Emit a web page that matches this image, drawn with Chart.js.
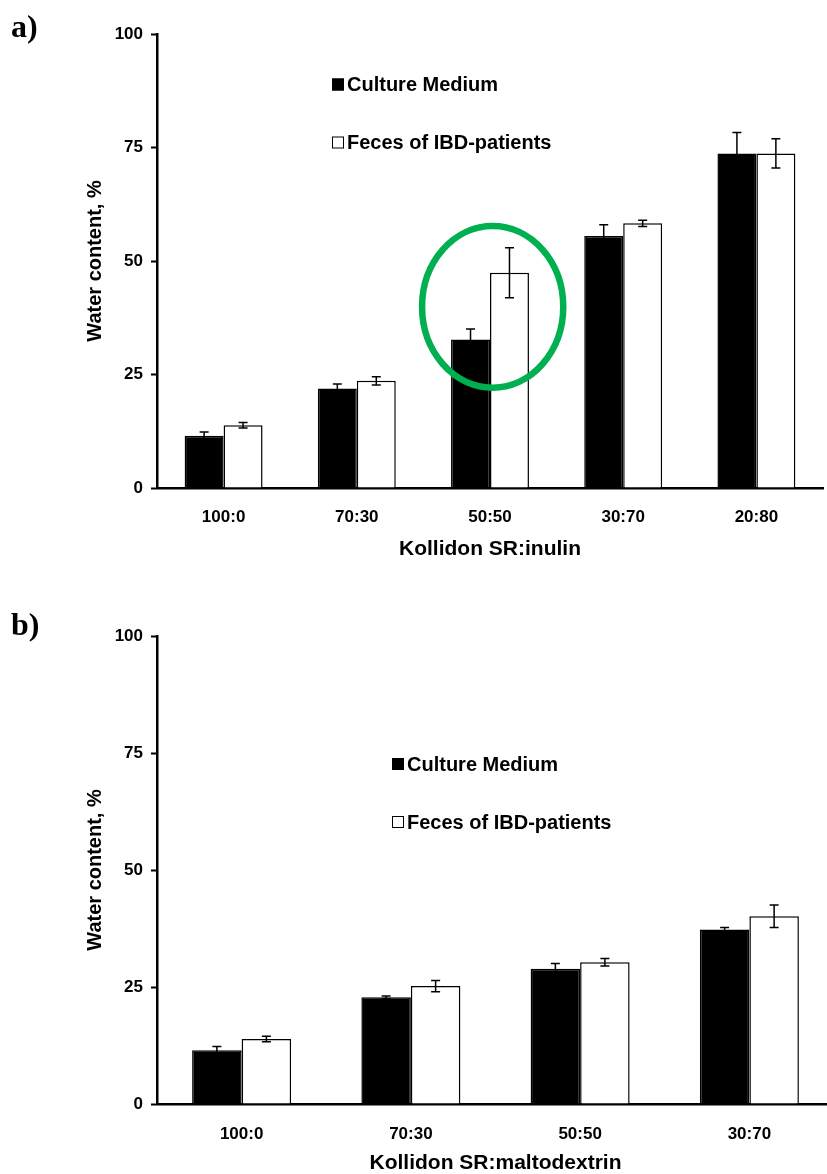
<!DOCTYPE html>
<html>
<head>
<meta charset="utf-8">
<script src="https://cdn.jsdelivr.net/npm/chart.js@4.4.1/dist/chart.umd.min.js"></script>
<style>
  html, body { margin: 0; padding: 0; background: #fff; overflow: hidden; width: 827px; height: 1174px; }
  .wrap { position: absolute; left: 0; }
  #wrapA { top: 0; }
  #wrapB { top: 587px; }
</style>
</head>
<body>
<div class="wrap" id="wrapA"><canvas id="chartA" width="827" height="587"></canvas></div>
<div class="wrap" id="wrapB"><canvas id="chartB" width="838" height="600"></canvas></div>
<script>
/* ---------- data ---------- */
var seriesNames = ['Culture Medium', 'Feces of IBD-patients'];

// a) Kollidon SR:inulin
var catsA = ['100:0', '70:30', '50:50', '30:70', '20:80'];
var cultureA = [11.5, 21.9, 32.7, 55.5, 73.7];
var cultureErrA = [0.85, 1.0, 2.3, 2.5, 4.6];
var fecesA = [13.8, 23.6, 47.4, 58.3, 73.7];
var fecesErrA = [0.6, 0.9, 5.5, 0.7, 3.2];

// b) Kollidon SR:maltodextrin
var catsB = ['100:0', '70:30', '50:50', '30:70'];
var cultureB = [11.5, 22.8, 28.9, 37.3];
var cultureErrB = [0.8, 0.3, 1.1, 0.4];
var fecesB = [13.9, 25.2, 30.3, 40.1];
var fecesErrB = [0.6, 1.2, 0.8, 2.4];

var yTicks = [0, 25, 50, 75, 100];

Chart.defaults.font.family = '"Liberation Sans", Arial, sans-serif';
Chart.defaults.color = '#000';

/* ---------- error bars, legend, panel letter, ellipse ---------- */
var decor = {
	id: 'decor',
	afterDatasetsDraw: function(chart, args, opts) {
		var ctx = chart.ctx;
		var ys = chart.scales.y;
		var xs = chart.scales.x;
		var area = chart.chartArea;

		// error bars
		ctx.save();
		ctx.strokeStyle = '#000';
		ctx.lineWidth = 1.5;
		chart.data.datasets.forEach(function(ds, i) {
			var meta = chart.getDatasetMeta(i);
			meta.data.forEach(function(bar, j) {
				var v = ds.data[j], e = ds.errors[j];
				var yTop = ys.getPixelForValue(v + e);
				var yBot = ys.getPixelForValue(v - e);
				ctx.beginPath();
				ctx.moveTo(bar.x, yTop); ctx.lineTo(bar.x, yBot);
				ctx.moveTo(bar.x - 4.5, yTop); ctx.lineTo(bar.x + 4.5, yTop);
				ctx.moveTo(bar.x - 4.5, yBot); ctx.lineTo(bar.x + 4.5, yBot);
				ctx.stroke();
			});
		});
		ctx.restore();

		// green ellipse
		if (opts.ellipse) {
			var el = opts.ellipse;
			var cx = xs.getPixelForValue(el.cat);
			var cy = ys.getPixelForValue(el.value);
			var rx = xs.getPixelForValue(el.cat + el.halfCats) - cx;
			var ry = cy - ys.getPixelForValue(el.value + el.halfValue);
			ctx.save();
			ctx.strokeStyle = '#00B050';
			ctx.lineWidth = 6.5;
			ctx.beginPath();
			ctx.ellipse(cx, cy, rx, ry, 0, 0, Math.PI * 2);
			ctx.stroke();
			ctx.restore();
		}

		// legend
		ctx.save();
		ctx.font = 'bold 20px "Liberation Sans", Arial, sans-serif';
		ctx.textBaseline = 'middle';
		chart.data.datasets.forEach(function(ds, i) {
			var lx = area.left + opts.legend.dx;
			var ly = area.top + opts.legend.dy[i];
			ctx.fillStyle = ds.backgroundColor;
			ctx.fillRect(lx, ly - 6, 12, 12);
			ctx.strokeStyle = '#000';
			ctx.lineWidth = 1;
			ctx.strokeRect(lx + 0.5, ly - 5.5, 11, 11);
			ctx.fillStyle = '#000';
			ctx.fillText(ds.label, lx + 15, ly + 1);
		});
		ctx.restore();

		// panel letter
		ctx.save();
		ctx.font = 'bold 32px "Liberation Serif", "Times New Roman", serif';
		ctx.textBaseline = 'alphabetic';
		ctx.fillStyle = '#000';
		ctx.fillText(opts.panel.text, opts.panel.x, opts.panel.y);
		ctx.restore();
	}
};

function makeChart(id, cats, culture, cultureErr, feces, fecesErr, xTitle, lay, extra) {
	return new Chart(document.getElementById(id), {
		type: 'bar',
		data: {
			labels: cats,
			datasets: [{
				label: seriesNames[0],
				data: culture,
				errors: cultureErr,
				backgroundColor: '#000',
				borderColor: '#000',
				borderWidth: 1.5,
				categoryPercentage: 0.585,
				barPercentage: 1.0
			}, {
				label: seriesNames[1],
				data: feces,
				errors: fecesErr,
				backgroundColor: '#fff',
				borderColor: '#000',
				borderWidth: 1.5,
				categoryPercentage: 0.585,
				barPercentage: 1.0
			}]
		},
		options: {
			responsive: false,
			animation: false,
			layout: { padding: lay.padding },
			plugins: {
				legend: { display: false },
				tooltip: { enabled: false },
				decor: extra
			},
			scales: {
				x: {
					grid: { display: false, drawTicks: false },
					border: { display: true, color: '#000', width: 2.5 },
					ticks: {
						color: '#000',
						padding: lay.xTickPad,
						font: { size: 17, weight: 'bold' }
					},
					title: {
						display: true,
						text: xTitle,
						color: '#000',
						font: { size: 21, weight: 'bold' },
						padding: { top: 0, bottom: lay.xTitlePad }
					},
					afterFit: function(s) { s.height = lay.xHeight; }
				},
				y: {
					min: 0,
					max: 100,
					afterBuildTicks: function(s) {
						s.ticks = yTicks.map(function(v) { return { value: v }; });
					},
					grid: {
						drawOnChartArea: false,
						tickLength: 6,
						tickColor: '#000',
						tickWidth: 2
					},
					border: { color: '#000', width: 2.5 },
					ticks: {
						color: '#000',
						padding: 8,
						font: { size: 17, weight: 'bold' }
					},
					title: {
						display: true,
						text: 'Water content, %',
						color: '#000',
						font: { size: 20, weight: 'bold' },
						padding: 0
					},
					afterFit: function(s) { s.width = 74; }
				}
			}
		},
		plugins: [decor]
	});
}

makeChart('chartA', catsA, cultureA, cultureErrA, fecesA, fecesErrA, 'Kollidon SR:inulin',
	{ padding: { left: 83, top: 34, right: 4, bottom: 0 }, xHeight: 99, xTickPad: 19, xTitlePad: 25 },
	{
		legend: { dx: 175, dy: [50.5, 108.5] },
		panel: { text: 'a)', x: 11, y: 37 },
		ellipse: { cat: 2.02, value: 39.9, halfValue: 17.8, halfCats: 0.53 }
	});

makeChart('chartB', catsB, cultureB, cultureErrB, fecesB, fecesErrB, 'Kollidon SR:maltodextrin',
	{ padding: { left: 83, top: 49, right: 4, bottom: 0 }, xHeight: 83, xTickPad: 20, xTitlePad: 11 },
	{
		legend: { dx: 235, dy: [128, 186] },
		panel: { text: 'b)', x: 11, y: 48 }
	});
</script>
</body>
</html>
